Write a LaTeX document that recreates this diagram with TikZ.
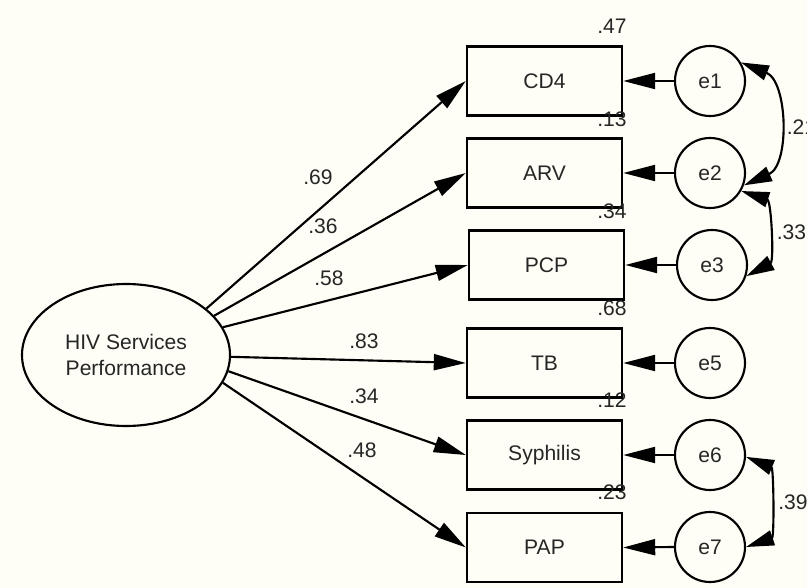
\documentclass[tikz,border=0pt]{standalone}
\usepackage{fontspec}
\setmainfont{Liberation Sans}
\usetikzlibrary{arrows.meta,shapes.geometric}
\definecolor{paper}{HTML}{FEFEF6}
\definecolor{ink}{HTML}{262626}

\begin{document}
\begin{tikzpicture}[x=0.75pt,y=-0.75pt,
  font=\fontsize{15.8}{18.8}\selectfont,
  every node/.style={text=ink},
  obs/.style={draw=black, line width=1.8pt, rectangle, minimum width=116.25pt, minimum height=51.75pt, inner sep=0pt},
  err/.style={draw=black, line width=1.6pt, circle, minimum size=52.5pt, inner sep=0pt},
  lat/.style={draw=black, line width=1.6pt, ellipse, minimum width=156pt, minimum height=106.5pt, inner sep=0pt, align=center},
  load/.style={line width=1.6pt, -{Triangle[length=24pt,width=12pt]}},
  cov/.style={line width=1.6pt, {Triangle[length=21pt,width=11.5pt]}-{Triangle[length=21pt,width=11.5pt]}},
  coef/.style={inner sep=0pt}
]
\fill[paper] (0,0) rectangle (807,588);
\useasboundingbox (0,0) rectangle (807,588);

% latent factor
\node[lat] (hiv) at (126,355) {HIV Services\\Performance};

% indicators
\node[obs] (cd4) at (544.5,81)   {CD4};
\node[obs] (arv) at (544.5,173)  {ARV};
\node[obs] (pcp) at (546.5,265)  {PCP};
\node[obs] (tb)  at (544.5,363)  {TB};
\node[obs] (syp) at (544.5,455)  {Syphilis};
\node[obs] (pap) at (544.5,547.5){PAP};

% error terms
\node[err] (e1) at (710,81)  {e1};
\node[err] (e2) at (710,173) {e2};
\node[err] (e3) at (712,265) {e3};
\node[err] (e5) at (710,363) {e5};
\node[err] (e6) at (710,455) {e6};
\node[err] (e7) at (710,547) {e7};

% factor loadings
\draw[load] (hiv.30)    -- (cd4.west);
\draw[load] (hiv.24)    -- (arv.west);
\draw[load] (hiv.16.6)  -- (pcp.west);
\draw[load] (hiv.-1)    -- (tb.west);
\draw[load] (hiv.-9.6)  -- (syp.west);
\draw[load] (hiv.-16.3) -- (pap.west);

% error paths
\draw[load] (e1.west) -- (cd4.east);
\draw[load] (e2.west) -- (arv.east);
\draw[load] (e3.west) -- (pcp.east);
\draw[load] (e5.west) -- (tb.east);
\draw[load] (e6.west) -- (syp.east);
\draw[load] (e7.west) -- (pap.east);

% error covariances
\draw[cov] (e1.31)  to[out=-22,in=24,looseness=1.05] (e2.-20);
\draw[cov] (e2.-30) to[out=-18,in=28,looseness=0.95] (e3.-18);
\draw[cov] (e6.-3)  to[out=-22,in=19,looseness=0.85] (e7.0);

% loading estimates
\node[coef] (l1) at (318,177) {.69};
\node[coef] (l2) at (323,226) {.36};
\node[coef] (l3) at (329,278) {.58};
\node[coef] (l4) at (364,341) {.83};
\node[coef] (l5) at (364,396) {.34};
\node[coef] (l6) at (362,450) {.48};

% squared multiple correlations
\node[coef] (r1) at (612,26)  {.47};
\node[coef] (r2) at (612,119) {.13};
\node[coef] (r3) at (612,211) {.34};
\node[coef] (r4) at (612,308) {.68};
\node[coef] (r5) at (612,400) {.12};
\node[coef] (r6) at (612,492) {.23};

% covariance estimates
\node[coef] (c1) at (801.5,127) {.21};
\node[coef] (c2) at (791.5,232) {.33};
\node[coef] (c3) at (793,502)   {.39};
\end{tikzpicture}
\end{document}
